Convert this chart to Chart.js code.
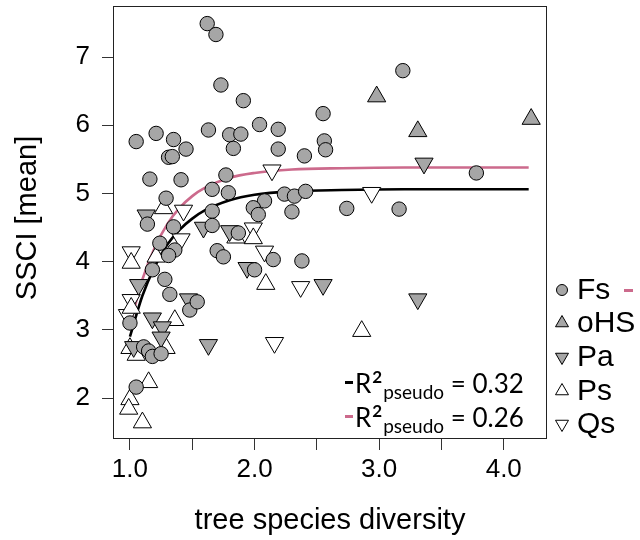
<!DOCTYPE html>
<html><head><meta charset="utf-8">
<script src="https://cdn.jsdelivr.net/npm/chart.js@4.4.1/dist/chart.umd.min.js"></script>
<style>html,body{margin:0;padding:0;background:#fff;}#wrap{width:640px;height:540px;position:relative;}</style>
</head><body><div id="wrap"><canvas id="c" width="640" height="540"></canvas></div>
<script>
// ---- data ----
const fsX = [1.62,1.69,1.73,1.91,2.55,1.05,1.21,1.35,1.45,1.31,1.34,1.63,1.80,1.89,1.83,2.04,2.19,2.19,2.40,2.56,2.57,1.16,1.41,1.77,1.66,1.79,1.29,2.08,2.24,2.32,2.41,1.99,2.03,2.30,2.74,1.66,1.14,1.35,1.66,3.19,3.78,3.16,1.87,1.24,1.36,1.31,1.70,1.75,2.15,2.38,2.00,1.18,1.28,1.32,1.48,1.54,1.00,1.11,1.15,1.18,1.25,1.05];
const fsY = [7.49,7.33,6.59,6.36,6.17,5.76,5.88,5.79,5.65,5.53,5.54,5.93,5.86,5.87,5.66,6.01,5.94,5.65,5.55,5.77,5.64,5.21,5.20,5.27,5.06,5.01,4.93,4.89,4.99,4.96,5.03,4.79,4.69,4.73,4.78,4.74,4.55,4.51,4.53,6.80,5.30,4.77,4.42,4.27,4.17,4.09,4.16,4.07,4.03,4.01,3.88,3.88,3.74,3.52,3.29,3.41,3.10,2.75,2.69,2.61,2.65,2.16];
const ohsX = [2.98,3.31,4.22];
const ohsY = [6.42,5.91,6.09];
const paX = [3.36,3.31,2.55,1.63,1.13,1.59,1.80,1.94,1.47,1.18,1.26,1.25,1.03,1.07];
const paY = [5.44,3.45,3.66,2.78,4.68,4.50,4.45,3.91,3.45,3.17,3.04,2.89,2.75,3.66];
const psX = [2.86,2.09,1.27,1.36,1.15,1.00,0.99,1.10,1.01,1.01,1.00,1.05,1.99,1.85,1.21,1.29];
const psY = [2.98,3.67,4.78,3.14,2.23,1.98,1.84,1.64,3.98,3.32,2.73,2.63,4.34,4.35,4.07,2.73];
const qsX = [2.94,2.14,1.43,2.37,2.16,1.99,2.08,1.01,1.41,1.01,0.98];
const qsY = [5.01,5.34,4.75,3.63,2.81,4.49,4.15,4.14,4.33,3.44,3.22];
const curveX = [1.0,1.1,1.2,1.3,1.4,1.5,1.6,1.8,2.0,2.3,2.7,3.2,4.2];
const curveBlackY = [2.90,3.50,3.93,4.25,4.47,4.63,4.75,4.90,4.98,5.03,5.05,5.06,5.06];
const curvePinkY = [3.07,3.74,4.21,4.55,4.79,4.96,5.08,5.23,5.30,5.35,5.37,5.38,5.38];
const xTickValues = [1.0,1.5,2.0,2.5,3.0,3.5,4.0];
const xTickLabels = ['1.0','','2.0','','3.0','','4.0'];
const yTickValues = [2,3,4,5,6,7];
const legendLabels = ['Fs','oHS','Pa','Ps','Qs'];
const r2Values = ['0.32','0.26'];
const xTitle = 'tree species diversity';
const yTitle = 'SSCI [mean]';

// ---- styles ----
const GRAY = '#a6a6a6';
const PINK = '#cc6a8c';
const FONT = '"Liberation Sans", Arial, sans-serif';

const pts = (xs, ys) => xs.map((x, i) => ({x: x, y: ys[i]}));

function sym(ctx, kind, x, y, r, fill) {
  ctx.save();
  ctx.beginPath();
  if (kind === 'circle') {
    ctx.arc(x, y, r, 0, Math.PI * 2);
  } else {
    const s = kind === 'up' ? 1 : -1;
    for (let k = 0; k < 3; k++) {
      const a = k * 2 * Math.PI / 3;
      const px = x + Math.sin(a) * r * s, py = y - Math.cos(a) * r * s;
      if (k === 0) ctx.moveTo(px, py); else ctx.lineTo(px, py);
    }
    ctx.closePath();
  }
  ctx.fillStyle = fill; ctx.fill();
  ctx.lineWidth = 1; ctx.strokeStyle = '#000'; ctx.stroke();
  ctx.restore();
}

const decor = {
  id: 'decor',
  afterDraw(chart) {
    const ctx = chart.ctx, a = chart.chartArea;
    ctx.save();
    ctx.strokeStyle = '#222'; ctx.lineWidth = 1;
    ctx.strokeRect(a.left + 0.5, a.top + 0.5, a.right - a.left - 1, a.bottom - a.top - 1);
    // axis titles
    ctx.fillStyle = '#000';
    ctx.font = '29px ' + FONT;
    ctx.textAlign = 'center'; ctx.textBaseline = 'middle';
    ctx.fillText(xTitle, (a.left + a.right) / 2, 521);
    ctx.save(); ctx.translate(28, 218); ctx.rotate(-Math.PI / 2);
    ctx.fillText(yTitle, 0, 0); ctx.restore();
    // legend
    const rows = [290, 323, 357, 391, 424];
    const kinds = [['circle', GRAY, 5.5], ['up', GRAY, 7.5], ['down', GRAY, 7.5], ['up', '#fff', 7.5], ['down', '#fff', 7.5]];
    ctx.textAlign = 'left';
    ctx.font = '30px ' + FONT;
    legendLabels.forEach((lab, i) => {
      sym(ctx, kinds[i][0], 562, rows[i], kinds[i][2], kinds[i][1]);
      ctx.fillStyle = '#000';
      ctx.fillText(lab, 577, rows[i] + 1);
    });
    ctx.fillStyle = PINK; ctx.fillRect(624, 289, 9, 3);
    // R2 annotations
    const bases = [393, 427], cols = ['#000', PINK];
    r2Values.forEach((v, i) => {
      const b = bases[i];
      ctx.fillStyle = cols[i]; ctx.fillRect(345, b - 12, 8, 3);
      ctx.fillStyle = '#000'; ctx.textBaseline = 'alphabetic'; ctx.textAlign = 'left';
      let x = 355;
      ctx.font = '26px Lato, sans-serif'; ctx.fillText('R', x, b); x += ctx.measureText('R').width + 1;
      ctx.font = 'bold 17px Lato, sans-serif'; ctx.fillText('2', x, b - 10); x += ctx.measureText('2').width + 1;
      ctx.font = '19px Lato, sans-serif'; ctx.fillText('pseudo', x, b + 6); x += ctx.measureText('pseudo').width;
      ctx.font = '26px Lato, sans-serif'; ctx.fillText(' = ' + v, x, b);
    });
    ctx.restore();
  }
};

new Chart(document.getElementById('c'), {
  type: 'scatter',
  data: {
    datasets: [
      {label: 'Fs', data: pts(fsX, fsY), pointStyle: 'circle', pointRadius: 7.2, backgroundColor: GRAY, borderColor: '#000', borderWidth: 1},
      {label: 'oHS', data: pts(ohsX, ohsY), pointStyle: 'triangle', pointRadius: 10.5, backgroundColor: GRAY, borderColor: '#000', borderWidth: 1},
      {label: 'Pa', data: pts(paX, paY), pointStyle: 'triangle', pointRotation: 180, pointRadius: 10.5, backgroundColor: GRAY, borderColor: '#000', borderWidth: 1},
      {label: 'Ps', data: pts(psX, psY), pointStyle: 'triangle', pointRadius: 10.5, backgroundColor: '#fff', borderColor: '#000', borderWidth: 1},
      {label: 'Qs', data: pts(qsX, qsY), pointStyle: 'triangle', pointRotation: 180, pointRadius: 10.5, backgroundColor: '#fff', borderColor: '#000', borderWidth: 1},
      {type: 'line', label: 'fit1', data: pts(curveX, curveBlackY), borderColor: '#000', borderWidth: 2.6, pointRadius: 0, cubicInterpolationMode: 'monotone', fill: false},
      {type: 'line', label: 'fit2', data: pts(curveX, curvePinkY), borderColor: PINK, borderWidth: 2.6, pointRadius: 0, cubicInterpolationMode: 'monotone', fill: false}
    ]
  },
  options: {
    responsive: false, animation: false, devicePixelRatio: 1,
    layout: {autoPadding: false, padding: {top: 6, right: 93, left: 0, bottom: 0}},
    plugins: {legend: {display: false}, tooltip: {enabled: false}},
    scales: {
      x: {
        type: 'linear', min: 0.864, max: 4.347,
        afterBuildTicks: s => { s.ticks = xTickValues.map(v => ({value: v})); },
        afterFit: s => { s.height = 101; s.paddingLeft = 0; s.paddingRight = 0; },
        ticks: {autoSkip: false, maxRotation: 0, padding: 4, color: '#000', font: {family: FONT, size: 26},
          callback: v => xTickLabels[xTickValues.indexOf(v)]},
        grid: {drawOnChartArea: false, drawTicks: true, tickLength: 11, color: '#333'},
        border: {display: false}
      },
      y: {
        type: 'linear', min: 1.399, max: 7.748,
        afterBuildTicks: s => { s.ticks = yTickValues.map(v => ({value: v})); },
        afterFit: s => { s.width = 113; s.paddingTop = 0; s.paddingBottom = 0; },
        ticks: {autoSkip: false, padding: 12, color: '#000', font: {family: FONT, size: 26},
          callback: v => String(v)},
        grid: {drawOnChartArea: false, drawTicks: true, tickLength: 11, color: '#333'},
        border: {display: false}
      }
    }
  },
  plugins: [decor]
});
</script></body></html>
